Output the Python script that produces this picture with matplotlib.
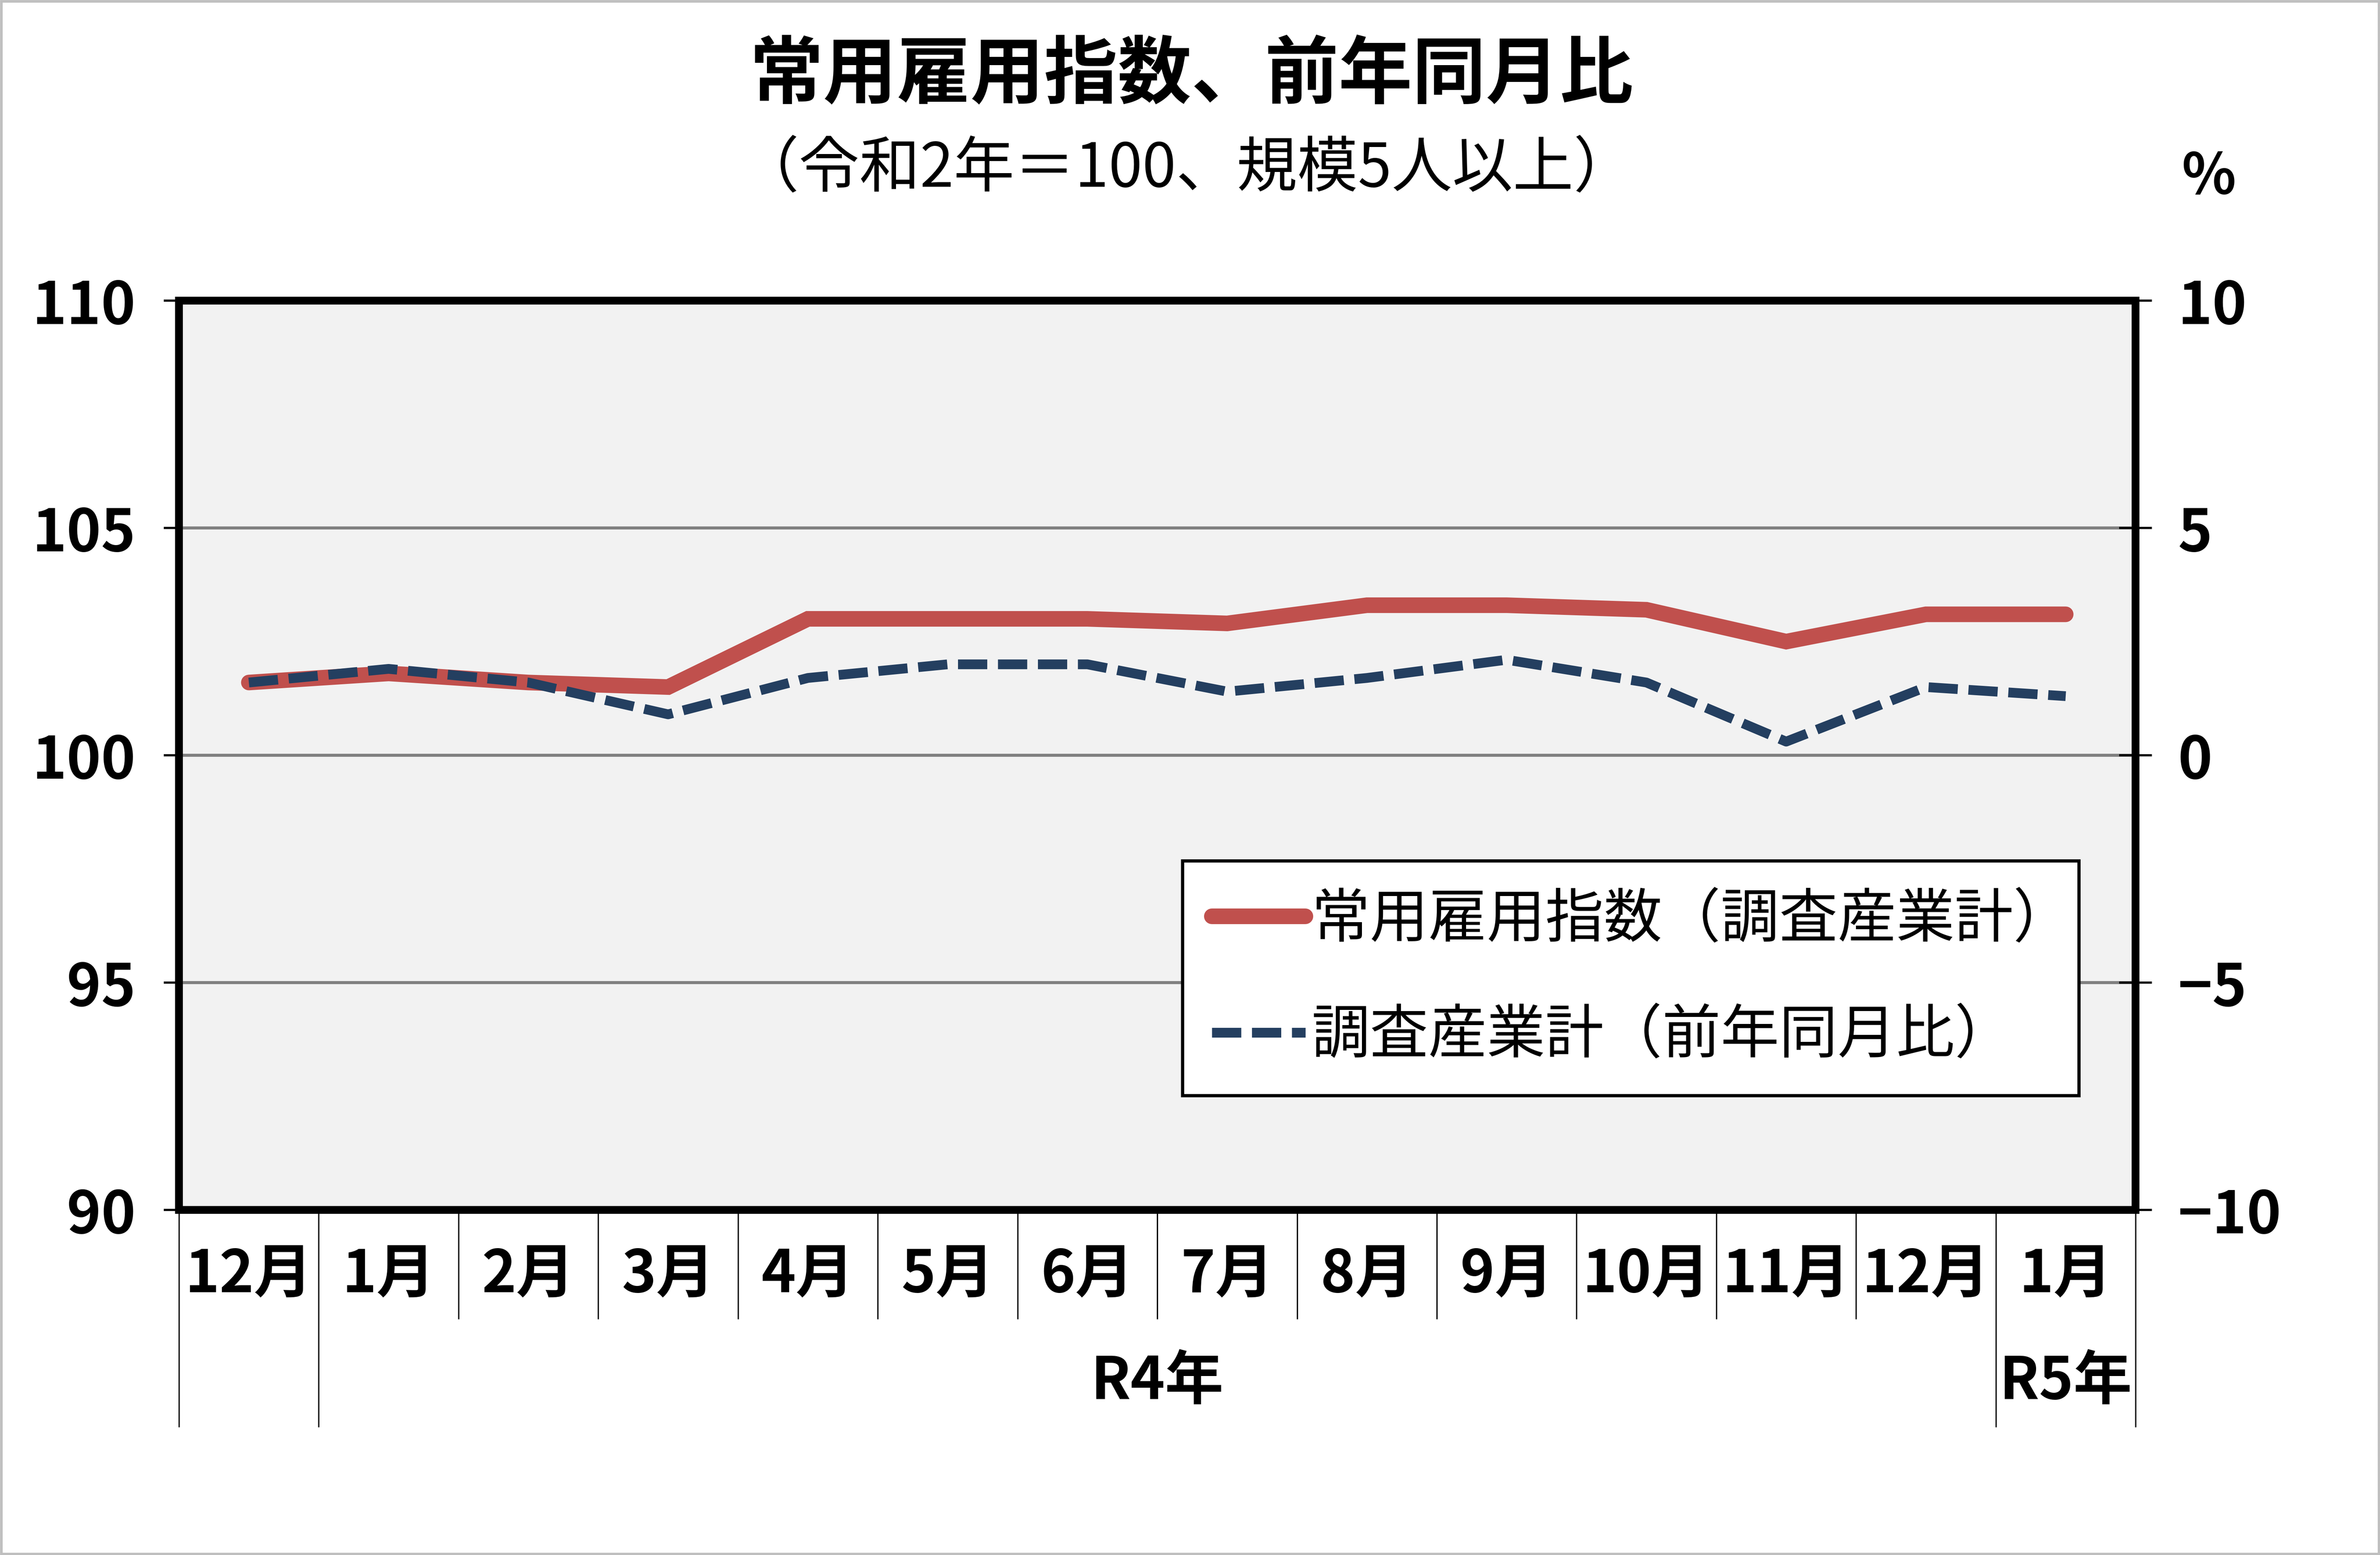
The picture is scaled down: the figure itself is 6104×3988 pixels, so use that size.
import matplotlib
matplotlib.use("Agg")
import matplotlib.pyplot as plt
from matplotlib.patches import Rectangle

plt.rcParams["font.family"] = ["Noto Sans CJK JP", "DejaVu Sans"]

# data
months = ["12月", "1月", "2月", "3月", "4月", "5月", "6月",
          "7月", "8月", "9月", "10月", "11月", "12月", "1月"]
years = ["R4年", "R5年"]
year_centers = [6.5, 13.0]
index_values = [101.6, 101.8, 101.6, 101.5, 103.0, 103.0, 103.0,
                102.9, 103.3, 103.3, 103.2, 102.5, 103.1, 103.1]
yoy_values = [1.6, 1.9, 1.6, 0.9, 1.7, 2.0, 2.0,
              1.4, 1.7, 2.1, 1.6, 0.3, 1.5, 1.3]
left_ticks = [90, 95, 100, 105, 110]
right_ticks = [-10, -5, 0, 5, 10]
right_labels = ["−10", "−5", "0", "5", "10"]

red = "#C0504D"
navy = "#243F60"

fig = plt.figure(figsize=(15.26, 9.97), dpi=400)
ax = fig.add_axes([0.0752, 0.2219, 0.8221, 0.5848])
ax2 = ax.twinx()

x = list(range(len(months)))

ax.set_facecolor("#F2F2F2")
line1, = ax.plot(x, index_values, color=red, lw=7.2,
                 solid_capstyle="round", solid_joinstyle="miter", zorder=3)
line2, = ax2.plot(x, yoy_values, color=navy, lw=4.5, dashes=(3.0, 1.1),
                  dash_capstyle="butt", zorder=3)

ax.set_xlim(-0.5, len(months) - 0.5)
ax.set_ylim(90, 110)
ax2.set_ylim(-10, 10)

ax.set_yticks(left_ticks)
ax.set_yticklabels([str(t) for t in left_ticks], fontsize=27, fontweight="bold")
ax2.set_yticks(right_ticks)
ax2.set_yticklabels(right_labels, fontsize=27, fontweight="bold")
ax.tick_params(axis="y", direction="out", length=7, width=1.0, pad=13)
ax2.tick_params(axis="y", direction="inout", length=15, width=1.0, pad=12)
ax.set_xticks([])
ax2.set_xticks([])

for y in [95, 100, 105]:
    ax.axhline(y, color="#808080", lw=1.4, zorder=1)

for a in (ax, ax2):
    for s in a.spines.values():
        s.set_linewidth(3.6)
        s.set_color("black")

# two-level category axis
xt = ax.get_xaxis_transform()
for i, m in enumerate(months):
    ax.text(i, -0.072, m, transform=xt, ha="center", va="center",
            fontsize=27, fontweight="bold", clip_on=False)
for yc, ylab in zip(year_centers, years):
    ax.text(yc, -0.189, ylab, transform=xt, ha="center", va="center",
            fontsize=27, fontweight="bold", clip_on=False)

year_bounds = [-0.5, 0.5, 12.5, 13.5]
month_bounds = [b + 0.5 for b in range(1, 12)]
ax.vlines(month_bounds, -0.12, 0, transform=xt, colors="black",
          lw=0.6, clip_on=False)
ax.vlines(year_bounds, -0.239, 0, transform=xt, colors="black",
          lw=0.6, clip_on=False)

leg = ax2.legend([line1, line2],
                 ["常用雇用指数（調査産業計）", "調査産業計（前年同月比）"],
                 loc="upper left", bbox_to_anchor=(0.513, 0.124, 0.458, 0.26),
                 mode="expand", borderaxespad=0, fontsize=27,
                 handlelength=1.6, handletextpad=0.1, borderpad=0.5,
                 labelspacing=0.95, fancybox=False, framealpha=1)
leg.get_frame().set_edgecolor("black")
leg.get_frame().set_linewidth(1.5)

fig.text(0.5007, 0.951, "常用雇用指数、前年同月比", ha="center", va="center",
         fontsize=34, fontweight="bold")
fig.text(0.4985, 0.891, "（令和2年＝100、規模5人以上）", ha="center", va="center",
         fontsize=28)
fig.text(0.928, 0.886, "%", ha="center", va="center", fontsize=26,
         fontweight="bold")

fig.patches.append(Rectangle((0.0005, 0.0008), 0.999, 0.9984,
                             transform=fig.transFigure, fill=False,
                             edgecolor="#BFBFBF", lw=1.2))

fig.savefig("out.png", dpi=400)
